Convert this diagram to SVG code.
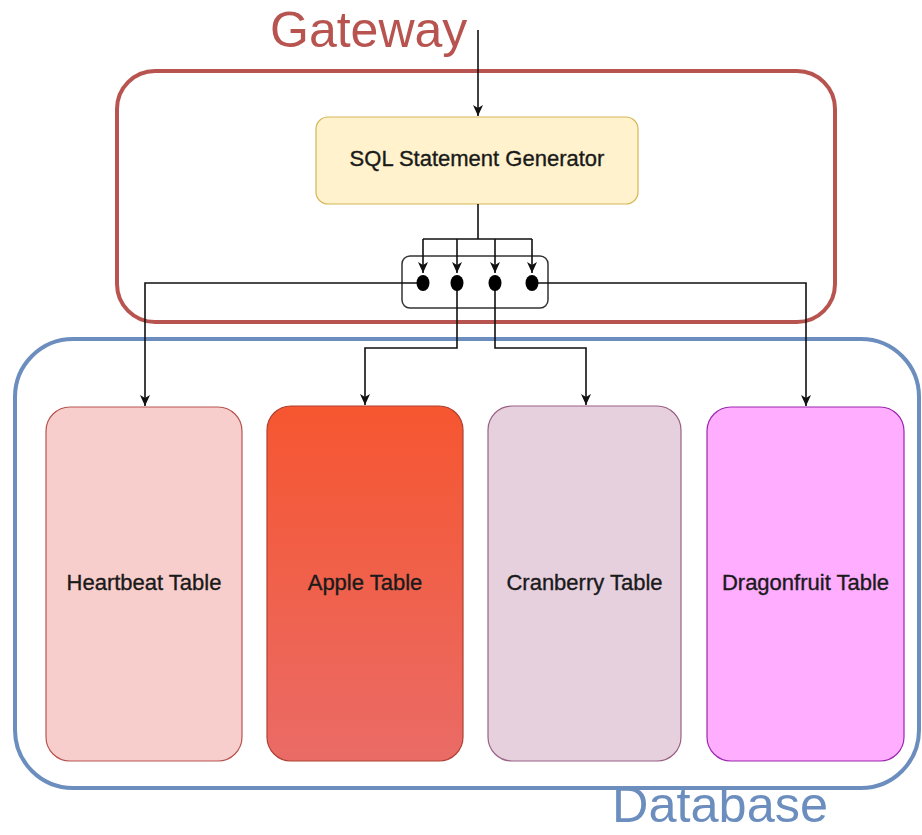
<svg xmlns="http://www.w3.org/2000/svg" width="922" height="835" viewBox="0 0 922 835">
<style>
.lbl{font-family:"Liberation Sans",Arial,Helvetica,sans-serif;font-size:22px;fill:#1a1a1a;stroke:#1a1a1a;stroke-width:0.35;text-anchor:middle}
.title{font-family:"Liberation Sans",Arial,Helvetica,sans-serif;font-size:50px}
.conn{fill:none;stroke:#111;stroke-width:1.6}
.tbl{stroke-width:1.2}
</style>
<defs>
<marker id="arr" markerWidth="12" markerHeight="12" refX="11" refY="6" orient="auto" markerUnits="userSpaceOnUse">
<path d="M0,1 L11,6 L0,11 L3,6 z" fill="#111"/>
</marker>
<linearGradient id="appleGrad" x1="0" y1="0" x2="0" y2="1">
<stop offset="0" stop-color="#f65630"/>
<stop offset="1" stop-color="#ea6b66"/>
</linearGradient>
</defs>
<rect width="922" height="835" fill="#ffffff"/>

<g id="gateway">
<rect x="117" y="71" width="718" height="251" rx="38" fill="none" stroke="#b85450" stroke-width="4"/>
<text class="title" x="270" y="47" fill="#b85450">Gateway</text>
</g>

<g id="database">
<rect x="15" y="339" width="904" height="449" rx="58" fill="none" stroke="#6c8ebf" stroke-width="4"/>
<text class="title" x="612" y="822" fill="#6c8ebf" font-size="47" textLength="216" lengthAdjust="spacingAndGlyphs">Database</text>
</g>

<g id="sql-generator">
<rect x="316" y="117" width="322" height="87" rx="12" fill="#fff2cc" stroke="#d6b656" stroke-width="1.2"/>
<text class="lbl" x="477" y="166">SQL Statement Generator</text>
</g>

<g id="router">
<rect x="402" y="256" width="146" height="52" rx="8" fill="#ffffff" stroke="#333333" stroke-width="1.5"/>
</g>

<g id="heartbeat-table">
<rect class="tbl" x="46" y="407" width="196" height="354" rx="24" fill="#f8cecc" stroke="#b85450"/>
<text class="lbl" x="144" y="590">Heartbeat Table</text>
</g>
<g id="apple-table">
<rect class="tbl" x="267" y="406" width="196" height="355" rx="24" fill="url(#appleGrad)" stroke="#ae4132"/>
<text class="lbl" x="365" y="590">Apple Table</text>
</g>
<g id="cranberry-table">
<rect class="tbl" x="488" y="406" width="193" height="355" rx="24" fill="#e6d0de" stroke="#996185"/>
<text class="lbl" x="584.5" y="590">Cranberry Table</text>
</g>
<g id="dragonfruit-table">
<rect class="tbl" x="707" y="407" width="197" height="354" rx="24" fill="#ffadff" stroke="#9c27b0"/>
<text class="lbl" x="805.5" y="590">Dragonfruit Table</text>
</g>

<g id="connectors">
<path class="conn" d="M478,30 L478,116" marker-end="url(#arr)"/>
<path class="conn" d="M478,204 L478,239 M423,239 L532,239"/>
<path class="conn" d="M423,239 L423,273" marker-end="url(#arr)"/>
<path class="conn" d="M457,239 L457,273" marker-end="url(#arr)"/>
<path class="conn" d="M495,239 L495,273" marker-end="url(#arr)"/>
<path class="conn" d="M532,239 L532,273" marker-end="url(#arr)"/>
<path class="conn" d="M423,283 L145,283 L145,406" marker-end="url(#arr)"/>
<path class="conn" d="M457,283 L457,348 L365,348 L365,405" marker-end="url(#arr)"/>
<path class="conn" d="M495,283 L495,348 L586,348 L586,405" marker-end="url(#arr)"/>
<path class="conn" d="M532,283 L806,283 L806,406" marker-end="url(#arr)"/>
<ellipse cx="423" cy="283" rx="6.5" ry="8" fill="#000"/>
<ellipse cx="457" cy="283" rx="6.5" ry="8" fill="#000"/>
<ellipse cx="495" cy="283" rx="6.5" ry="8" fill="#000"/>
<ellipse cx="532" cy="283" rx="6.5" ry="8" fill="#000"/>
</g>
</svg>
